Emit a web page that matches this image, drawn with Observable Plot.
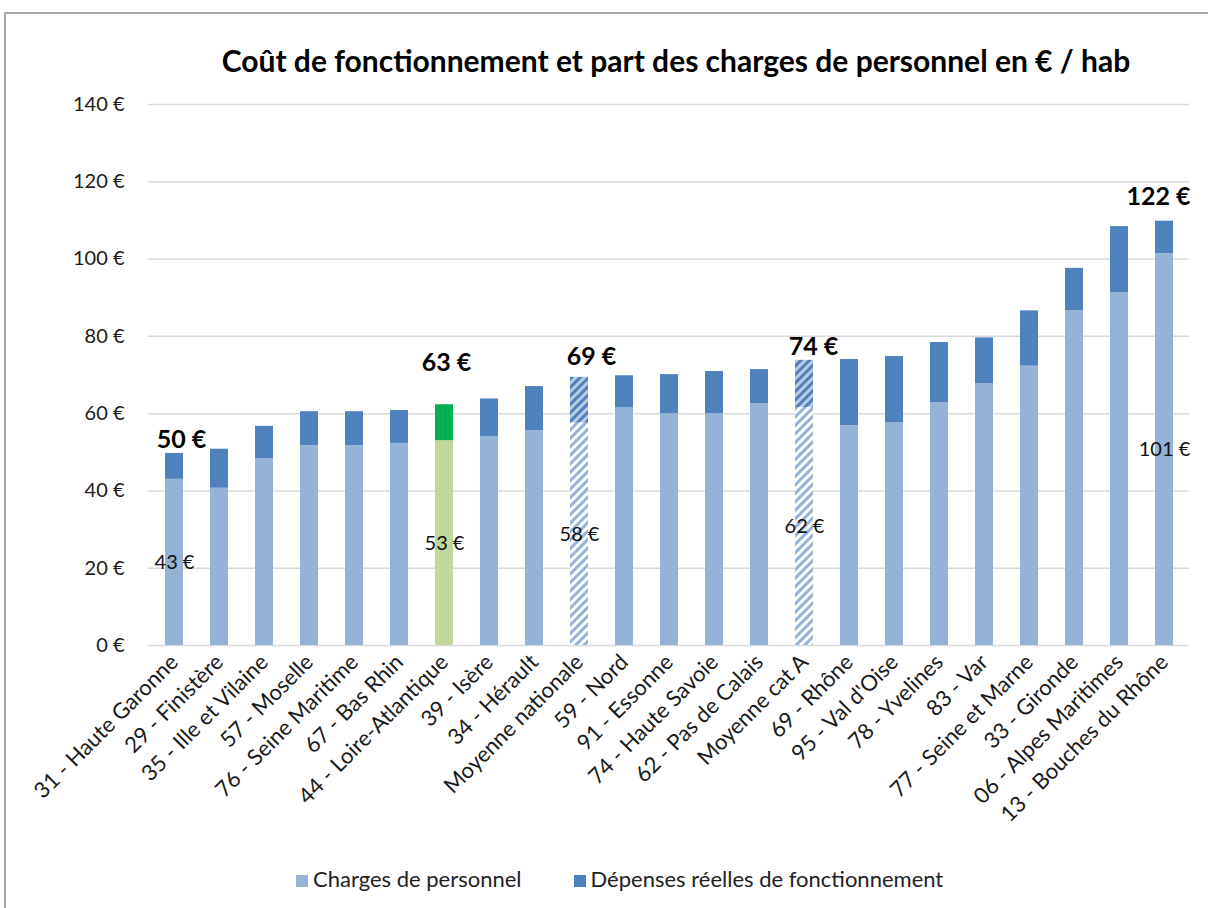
<!DOCTYPE html>
<html><head><meta charset="utf-8">
<script src="https://cdn.jsdelivr.net/npm/d3@7"></script>
<script src="https://cdn.jsdelivr.net/npm/@observablehq/plot@0.6"></script>
<style>
body{margin:0;background:#fff;font-family:Lato,"Open Sans",sans-serif;color:#000;overflow:hidden;}
#frame{position:absolute;left:4px;top:12px;width:1300px;height:1000px;border-top:2px solid #a6a6a6;border-left:2px solid #a6a6a6;}
#title{position:absolute;top:42px;left:0;width:1352px;text-align:center;font-weight:bold;font-size:30px;}
#chart{position:absolute;left:0;top:90px;}
#legend{position:absolute;top:865px;left:296px;display:flex;gap:52px;font-size:22px;color:#222;}
#legend span.sw{display:inline-block;width:12px;height:12px;margin-right:5px;vertical-align:0px;}
</style></head>
<body>
<div id="frame"></div>
<div id="title">Coût de fonctionnement et part des charges de personnel en € / hab</div>
<div id="chart"></div>
<div id="legend">
  <div><span class="sw" style="background:#95B3D7"></span>Charges de personnel</div>
  <div><span class="sw" style="background:#4F81BD"></span>Dépenses réelles de fonctionnement</div>
</div>
<script>
const categories = ["31 - Haute Garonne","29 - Finistère","35 - Ille et Vilaine","57 - Moselle","76 - Seine Maritime","67 - Bas Rhin","44 - Loire-Atlantique","39 - Isère","34 - Hérault","Moyenne nationale","59 - Nord","91 - Essonne","74 - Haute Savoie","62 - Pas de Calais","Moyenne cat A","69 - Rhône","95 - Val d'Oise","78 - Yvelines","83 - Var","77 - Seine et Marne","33 - Gironde","06 - Alpes Maritimes","13 - Bouches du Rhône"];
const chargesPersonnel = [43, 40.7, 48.3, 51.7, 51.7, 52.3, 53, 54.1, 55.6, 57.6, 61.5, 60, 60, 62.6, 61.6, 56.9, 57.6, 62.8, 67.8, 72.3, 86.6, 91.3, 101.4];
const coutTotal = [49.7, 50.8, 56.7, 60.5, 60.5, 60.8, 62.3, 63.8, 67, 69.4, 69.8, 70.1, 70.9, 71.4, 73.8, 74, 74.8, 78.4, 79.6, 86.6, 97.6, 108.4, 109.8];
const highlighted = ["44 - Loire-Atlantique"];
const averages = ["Moyenne nationale","Moyenne cat A"];
const labelledCategories = ["31 - Haute Garonne","44 - Loire-Atlantique","Moyenne nationale","Moyenne cat A","13 - Bouches du Rhône"];
const totalLabels = [50, 63, 69, 74, 122];
const personnelLabels = [43, 53, 58, 62, 101];
const yTicks = [0, 20, 40, 60, 80, 100, 120, 140];

const rows = categories.map((cat, i) => ({cat, personnel: chargesPersonnel[i], total: coutTotal[i]}));
const normal = rows.filter(d => !highlighted.includes(d.cat) && !averages.includes(d.cat));
const hi = rows.filter(d => highlighted.includes(d.cat));
const avg = rows.filter(d => averages.includes(d.cat));
const labelRows = labelledCategories.map((cat, i) => ({cat, personnel: chargesPersonnel[categories.indexOf(cat)], total: coutTotal[categories.indexOf(cat)], totalLabel: totalLabels[i], personnelLabel: personnelLabels[i]}));

// manual label offsets (pixels), as placed in the original
const totalOffsets = {"31 - Haute Garonne":[7,-13],"44 - Loire-Atlantique":[2,-42],"Moyenne nationale":[12,-20],"Moyenne cat A":[9,-13],"13 - Bouches du Rhône":[-6,-24]};

const font = "Lato, 'Open Sans', sans-serif";
const svg = Plot.plot({
  width: 1208, height: 740,
  marginLeft: 148, marginRight: 19, marginTop: 14, marginBottom: 185,
  style: {fontFamily: font, fontSize: "20px", color: "#1a1a1a", background: "transparent", overflow: "visible"},
  x: {domain: categories, paddingInner: 0.6, paddingOuter: 0.3, label: null},
  y: {domain: [0, 140], ticks: yTicks, tickFormat: d => `${d} €`, label: null},
  marks: [
    Plot.ruleY(yTicks, {stroke: "#d9d9d9", strokeWidth: 1.5}),
    Plot.axisY({ticks: yTicks, tickFormat: d => `${d} €`, tickSize: 0, tickPadding: 24, fontSize: 20, label: null}),
    Plot.axisX({tickSize: 0, tickRotate: -45, tickPadding: 13, fontSize: 22, label: null}),
    Plot.barY(normal, {x: "cat", y1: 0, y2: "personnel", fill: "#95B3D7"}),
    Plot.barY(normal, {x: "cat", y1: "personnel", y2: "total", fill: "#4F81BD"}),
    Plot.barY(hi, {x: "cat", y1: 0, y2: "personnel", fill: "#C3D69B"}),
    Plot.barY(hi, {x: "cat", y1: "personnel", y2: "total", fill: "#00B050"}),
    Plot.barY(avg, {x: "cat", y1: 0, y2: "personnel", fill: "url(#hatchLight)"}),
    Plot.barY(avg, {x: "cat", y1: "personnel", y2: "total", fill: "url(#hatchDark)"}),
    Plot.text(labelRows, {x: "cat", y: d => d.personnel / 2, text: d => `${d.personnelLabel} €`, fontSize: 20, fill: "#111"}),
    ...labelRows.map(r => Plot.text([r], {x: "cat", y: "total", text: d => `${d.totalLabel} €`, fontSize: 25, fontWeight: "bold", fill: "#000", dx: totalOffsets[r.cat][0], dy: totalOffsets[r.cat][1]}))
  ]
});
svg.insertAdjacentHTML("afterbegin", `<defs>
<pattern id="hatchLight" patternUnits="userSpaceOnUse" width="6" height="6" patternTransform="rotate(45)">
<rect width="6" height="6" fill="#ffffff"/><rect width="3" height="6" fill="#95B3D7"/></pattern>
<pattern id="hatchDark" patternUnits="userSpaceOnUse" width="6" height="6" patternTransform="rotate(45)">
<rect width="6" height="6" fill="#B8CCE4"/><rect width="3" height="6" fill="#4F81BD"/></pattern>
</defs>`);
document.getElementById("chart").appendChild(svg);
</script>
</body></html>
